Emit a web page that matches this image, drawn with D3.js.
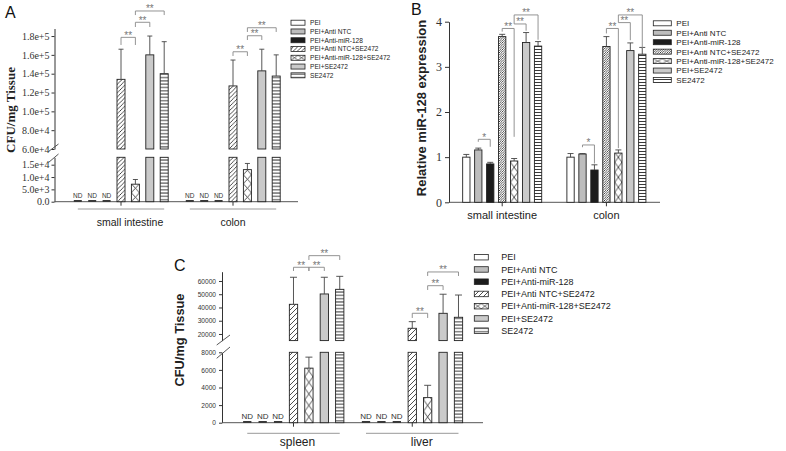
<!DOCTYPE html>
<html><head><meta charset="utf-8">
<script src="https://cdn.jsdelivr.net/npm/d3@7"></script>
<style>body{margin:0;background:#fff}svg{display:block}</style>
</head><body><svg id="c" width="786" height="451"></svg>
<script>
// ---------- DATA ----------
const series = ["PEI","PEI+Anti NTC","PEI+Anti-miR-128","PEI+Anti NTC+SE2472","PEI+Anti-miR-128+SE2472","PEI+SE2472","SE2472"];

// Panel A (CFU/mg tissue)
const groupsA = ["small intestine","colon"];
const valuesA = [[0,0,0,134000,7100,160000,140000],[0,0,0,127000,13000,143000,137500]];
const errorsA = [[0,0,0,32000,1900,20000,34000],[0,0,0,27500,2500,23000,22500]];
const ticksLowerA = [0,5000,10000,15000];
const labelsLowerA = ["0.0","5.0e+3","1.0e+4","1.5e+4"];
const ticksUpperA = [60000,80000,100000,120000,140000,160000,180000];
const labelsUpperA = ["6.0e+4","8.0e+4","1.0e+5","1.2e+5","1.4e+5","1.6e+5","1.8e+5"];
// brackets: [group, seriesA, seriesB, lineValue, leftEndValue, rightEndValue, label]
const bracketsA = [
  [0,3,4,178600,170500,170500,"**"],[0,4,5,194600,189600,189600,"**"],[0,4,6,206600,202300,202300,"**"],
  [1,3,4,163300,158800,158800,"**"],[1,4,5,180300,175800,175800,"**"],[1,4,6,188800,184300,184300,"**"]
];

// Panel B (relative miR-128 expression)
const groupsB = ["small intestine","colon"];
const valuesB = [[1.0,1.16,0.85,3.67,0.915,3.54,3.46],[1.0,1.07,0.715,3.45,1.09,3.36,3.28]];
const errorsB = [[0.06,0.04,0.035,0.05,0.055,0.22,0.10],[0.08,0.01,0.115,0.22,0.07,0.17,0.15]];
const ticksB = [0,1,2,3,4];
const bracketsB = [
  [0,1,2,1.395,1.34,1.23,"*"],[0,3,4,3.85,3.78,1.45,"**"],[0,4,5,3.95,3.95,3.80,"**"],[0,4,6,4.15,3.95,3.60,"**"],
  [1,1,2,1.27,1.22,0.86,"*"],[1,3,4,3.85,3.74,1.20,"**"],[1,4,5,3.98,3.98,3.59,"**"],[1,4,6,4.15,3.98,3.40,"**"]
];

// Panel C (CFU/mg tissue)
const groupsC = ["spleen","liver"];
const valuesC = [[0,0,0,42400,6200,50200,53700],[0,0,0,24300,2850,35600,32600]];
const errorsC = [[0,0,0,20400,1250,12600,9800],[0,0,0,5000,1400,14400,16800]];
const ticksLowerC = [0,2000,4000,6000,8000];
const ticksUpperC = [20000,30000,40000,50000,60000];
const bracketsC = [
  [0,3,4,70340,67550,67550,"**"],[0,4,5,70340,67550,67550,"**"],[0,4,6,79100,75850,75850,"**"],
  [1,3,4,35620,32080,32080,"**"],[1,4,5,56450,53200,53200,"**"],[1,4,6,66800,63770,63770,"**"]
];

// ---------- DRAWING ----------
const svg = d3.select("#c");
const defs = svg.append("defs");
let pid = 0;

function hatchPattern(step, sw) {
  const id = "h" + (pid++);
  const p = defs.append("pattern").attr("id", id).attr("patternUnits","userSpaceOnUse")
    .attr("width", step).attr("height", step);
  p.append("rect").attr("width", step).attr("height", step).attr("fill","#fff");
  p.append("path").attr("d", `M0,${step} L${step},0 M${-1},1 L1,-1 M${step-1},${step+1} L${step+1},${step-1}`)
    .attr("stroke","#222").attr("stroke-width", sw);
  return `url(#${id})`;
}
function horizPattern(step, sw) {
  const id = "h" + (pid++);
  const p = defs.append("pattern").attr("id", id).attr("patternUnits","userSpaceOnUse")
    .attr("width", 4).attr("height", step);
  p.append("rect").attr("width", 4).attr("height", step).attr("fill","#fff");
  p.append("line").attr("x1",0).attr("x2",4).attr("y1",step/2).attr("y2",step/2)
    .attr("stroke","#222").attr("stroke-width", sw);
  return `url(#${id})`;
}
function crossPattern(x, y, w, h, sw) {
  const id = "h" + (pid++);
  const p = defs.append("pattern").attr("id", id).attr("patternUnits","userSpaceOnUse")
    .attr("x", x).attr("y", y).attr("width", w).attr("height", h);
  p.append("rect").attr("width", w).attr("height", h).attr("fill","#fff");
  p.append("path").attr("d", `M0,0 L${w},${h} M${w},0 L0,${h}`)
    .attr("stroke","#222").attr("stroke-width", sw);
  return `url(#${id})`;
}

function makeFill(c) {
  const hatch = hatchPattern(c.hatchStep, c.hatchW);
  const horiz = horizPattern(c.horizStep, 0.9);
  return (si, x, y, w, tile) => {
    switch (si) {
      case 0: return "#ffffff";
      case 1: return "#bdbdbd";
      case 2: return "#1c1c1c";
      case 3: return hatch;
      case 4: return crossPattern(x, y, w, tile, 0.8);
      case 5: return "#cacaca";
      default: return horiz;
    }
  };
}

function drawPanel(c) {
  const g = svg.append("g");
  const fill = makeFill(c);
  const x0 = d3.scaleBand().domain(c.groups).range(c.xRange).paddingInner(c.groupPad).paddingOuter(0);
  const x1 = d3.scaleBand().domain(series).range([0, x0.bandwidth()])
    .paddingInner(c.barPad).paddingOuter(c.barPad / 2);
  const bw = x1.bandwidth();
  const yL = c.yLower, yU = c.yUpper;
  const yv = v => (!yU || v <= c.lowerMax) ? yL(v) : yU(v);
  const tickFill = "#333";

  // y axes
  const axL = g.append("g").attr("transform", `translate(${c.axisX},0)`)
    .call(d3.axisLeft(yL).tickValues(c.lowerTicks).tickFormat((d,i)=>c.lowerLabels ? c.lowerLabels[i] : d)
      .tickSize(c.tickSize).tickSizeOuter(0).tickPadding(c.tickPad));
  const axes = [axL];
  if (yU) {
    axes.push(g.append("g").attr("transform", `translate(${c.axisX},0)`)
      .call(d3.axisLeft(yU).tickValues(c.upperTicks).tickFormat((d,i)=>c.upperLabels ? c.upperLabels[i] : d)
        .tickSize(c.tickSize).tickSizeOuter(0).tickPadding(c.tickPad)));
    c.slashes.forEach(s => g.append("line").attr("x1", s[0]).attr("y1", s[1]).attr("x2", s[2]).attr("y2", s[3])
      .attr("stroke", "#444").attr("stroke-width", 0.9));
  }
  axes.forEach(a => {
    a.selectAll("path,line").attr("stroke", "#333");
    a.selectAll("text").attr("font-family", c.tickFont).attr("font-size", c.tickFontSize).attr("fill", tickFill);
  });

  // x axis baseline + group ticks
  g.append("line").attr("x1", c.axisX).attr("x2", c.axisEnd).attr("y1", yL(0)).attr("y2", yL(0))
    .attr("stroke", "#555").attr("stroke-width", 1);
  const axB = g.append("g").attr("transform", `translate(0,${yL(0)})`)
    .call(d3.axisBottom(x0).tickSize(4).tickFormat(""));
  axB.select(".domain").remove();
  axB.selectAll("line").attr("stroke", "#333");

  // bars
  c.groups.forEach((grp, gi) => {
    series.forEach((s, si) => {
      const v = c.values[gi][si], e = c.errors[gi][si];
      const bx = x0(grp) + x1(s), cx = bx + bw / 2;
      if (v === 0) {
        g.append("line").attr("x1", bx).attr("x2", bx + bw).attr("y1", yL(0) - 0.8).attr("y2", yL(0) - 0.8)
          .attr("stroke", "#222").attr("stroke-width", 1.6);
        g.append("text").attr("x", cx).attr("y", yL(0) - c.ndOffset).attr("text-anchor", "middle")
          .attr("font-family", "Liberation Sans, Arial, sans-serif").attr("font-size", c.ndSize)
          .attr("fill", "#333").text("ND");
        return;
      }
      const segs = (yU && v > c.lowerMax)
        ? [[yL(c.lowerMax), yL(0)], [yU(v), yU(c.upperMin)]]
        : [[yL(v), yL(0)]];
      segs.forEach(([t, b]) => {
        g.append("rect").attr("x", bx).attr("y", t).attr("width", bw).attr("height", b - t)
          .attr("fill", fill(si, bx, b, bw, c.crossTile)).attr("stroke", "#222").attr("stroke-width", 0.9);
      });
      if (e > 0) {
        const t0 = yv(v), t1 = yv(v + e);
        g.append("line").attr("x1", cx).attr("x2", cx).attr("y1", t0).attr("y2", t1)
          .attr("stroke", "#444").attr("stroke-width", 0.9);
        g.append("line").attr("x1", cx - c.cap / 2).attr("x2", cx + c.cap / 2).attr("y1", t1).attr("y2", t1)
          .attr("stroke", "#444").attr("stroke-width", 0.9);
      }
    });
    // group label + underline
    const first = x0(grp) + x1(series[0]) + bw / 2, last = x0(grp) + x1(series[6]) + bw / 2;
    if (c.underlineY) {
      g.append("line").attr("x1", first).attr("x2", last).attr("y1", c.underlineY).attr("y2", c.underlineY)
        .attr("stroke", "#999").attr("stroke-width", 1);
    }
    g.append("text").attr("x", x0(grp) + x0.bandwidth() / 2 + c.labelDx[gi]).attr("y", c.labelY)
      .attr("text-anchor", "middle").attr("font-family", "Liberation Sans, Arial, sans-serif")
      .attr("font-size", c.labelSize).attr("fill", "#222").text(grp);
  });

  // significance brackets
  const bs = yU || yL;
  c.brackets.forEach(([gi, a, b, ly, la, lb, t]) => {
    const grp = c.groups[gi];
    const xa = x0(grp) + x1(series[a]) + bw / 2, xb = x0(grp) + x1(series[b]) + bw / 2;
    const yl = bs(ly);
    g.append("path").attr("d", `M${xa},${bs(la)} L${xa},${yl} L${xb},${yl} L${xb},${bs(lb)}`)
      .attr("fill", "none").attr("stroke", "#888").attr("stroke-width", 0.9);
    g.append("text").attr("x", (xa + xb) / 2).attr("y", yl + c.starDy).attr("text-anchor", "middle")
      .attr("font-family", "Liberation Sans, Arial, sans-serif").attr("font-size", c.starSize)
      .attr("fill", "#777").text(t);
  });

  // y title
  g.append("text").attr("transform", `translate(${c.titleX},${c.titleY}) rotate(-90)`)
    .attr("text-anchor", "middle").attr("font-family", c.titleFont).attr("font-weight", "bold")
    .attr("font-size", c.titleSize).attr("fill", "#222").text(c.title);

  // panel letter
  g.append("text").attr("x", c.letterX).attr("y", c.letterY).attr("font-family", "Liberation Sans, Arial, sans-serif")
    .attr("font-size", 16).attr("fill", "#111").text(c.letter);

  // legend
  const lg = g.append("g");
  series.forEach((s, i) => {
    const cy = c.legY + i * c.legStep;
    let f;
    if (i === 4) f = crossPattern(c.legX, cy - c.legH / 2, c.legW / 2, c.legH, 0.7);
    else f = fill(i, c.legX, cy, c.legW, c.legH);
    lg.append("rect").attr("x", c.legX).attr("y", cy - c.legH / 2).attr("width", c.legW).attr("height", c.legH)
      .attr("fill", f).attr("stroke", "#222").attr("stroke-width", 0.8);
    lg.append("text").attr("x", c.legX + c.legW + c.legGap).attr("y", cy + c.legFont * 0.36)
      .attr("font-family", "Liberation Sans, Arial, sans-serif").attr("font-size", c.legFont)
      .attr("fill", "#222").text(s);
  });
}

// Panel A
drawPanel({
  groups: groupsA, values: valuesA, errors: errorsA, brackets: bracketsA,
  xRange: [70.6, 283.4], groupPad: 0.1, barPad: 0.444,
  yLower: d3.scaleLinear().domain([0, 18000]).range([201.7, 157.3]),
  yUpper: d3.scaleLinear().domain([60000, 188000]).range([149, 28.5]),
  lowerMax: 18000, upperMin: 60000,
  lowerTicks: ticksLowerA, lowerLabels: labelsLowerA, upperTicks: ticksUpperA, upperLabels: labelsUpperA,
  slashes: [[48.5, 151.5, 58.5, 144], [48.5, 162.5, 58.5, 154]],
  axisX: 54.5, axisEnd: 298, tickSize: 3, tickPad: 2,
  tickFont: "Liberation Serif, Times New Roman, serif", tickFontSize: 10,
  hatchStep: 4.2, hatchW: 0.8, horizStep: 3.3, crossTile: 9,
  cap: 5, ndOffset: 4, ndSize: 6.5, underlineY: 209, labelY: 226, labelSize: 10.5, labelDx: [9, 0],
  starSize: 10, starDy: 1.5,
  title: "CFU/mg Tissue", titleFont: "Liberation Serif, Times New Roman, serif", titleSize: 13, titleX: 14.5, titleY: 110,
  letter: "A", letterX: 5, letterY: 18,
  legX: 291, legY: 22.7, legStep: 8.77, legW: 14, legH: 5, legGap: 5, legFont: 6.6
});

// Panel B
drawPanel({
  groups: groupsB, values: valuesB, errors: errorsB, brackets: bracketsB,
  xRange: [460.35, 648.25], groupPad: 0.197, barPad: 0.389,
  yLower: d3.scaleLinear().domain([0, 4]).range([202.3, 21.7]), yUpper: null,
  lowerMax: 4, lowerTicks: ticksB, lowerLabels: null,
  axisX: 449, axisEnd: 660, tickSize: 4, tickPad: 3,
  tickFont: "Liberation Serif, Times New Roman, serif", tickFontSize: 12,
  hatchStep: 2.3, hatchW: 0.75, horizStep: 3, crossTile: 10,
  cap: 6, ndOffset: 4, ndSize: 7, underlineY: null, labelY: 219, labelSize: 11, labelDx: [0, 0],
  starSize: 10, starDy: 1.5,
  title: "Relative miR-128 expression", titleFont: "Liberation Sans, Arial, sans-serif", titleSize: 13, titleX: 425.5, titleY: 108,
  letter: "B", letterX: 411, letterY: 15,
  legX: 653.3, legY: 23.3, legStep: 9.45, legW: 18, legH: 5, legGap: 5, legFont: 8
});

// Panel C
drawPanel({
  groups: groupsC, values: valuesC, errors: errorsC, brackets: bracketsC,
  xRange: [239.55, 466.2], groupPad: 0.0914, barPad: 0.462,
  yLower: d3.scaleLinear().domain([0, 8000]).range([422.7, 352.3]),
  yUpper: d3.scaleLinear().domain([15000, 67000]).range([340.6, 271.7]),
  lowerMax: 8000, upperMin: 15000,
  lowerTicks: ticksLowerC, lowerLabels: null, upperTicks: ticksUpperC, upperLabels: null,
  slashes: [[216.7, 345, 230, 335], [216.7, 358.3, 230, 347]],
  axisX: 222, axisEnd: 483, tickSize: 3, tickPad: 3,
  tickFont: "Liberation Sans, Arial, sans-serif", tickFontSize: 6.6,
  hatchStep: 5, hatchW: 0.8, horizStep: 3.3, crossTile: 11.5,
  cap: 7, ndOffset: 3.4, ndSize: 8, underlineY: 433.3, labelY: 446, labelSize: 12, labelDx: [4, 9.5],
  starSize: 10, starDy: 1.5,
  title: "CFU/mg Tissue", titleFont: "Liberation Sans, Arial, sans-serif", titleSize: 12.8, titleX: 184, titleY: 340,
  letter: "C", letterX: 174, letterY: 271,
  legX: 474.3, legY: 257.2, legStep: 12.25, legW: 14, legH: 5.5, legGap: 13, legFont: 9
});
</script>
</body></html>
